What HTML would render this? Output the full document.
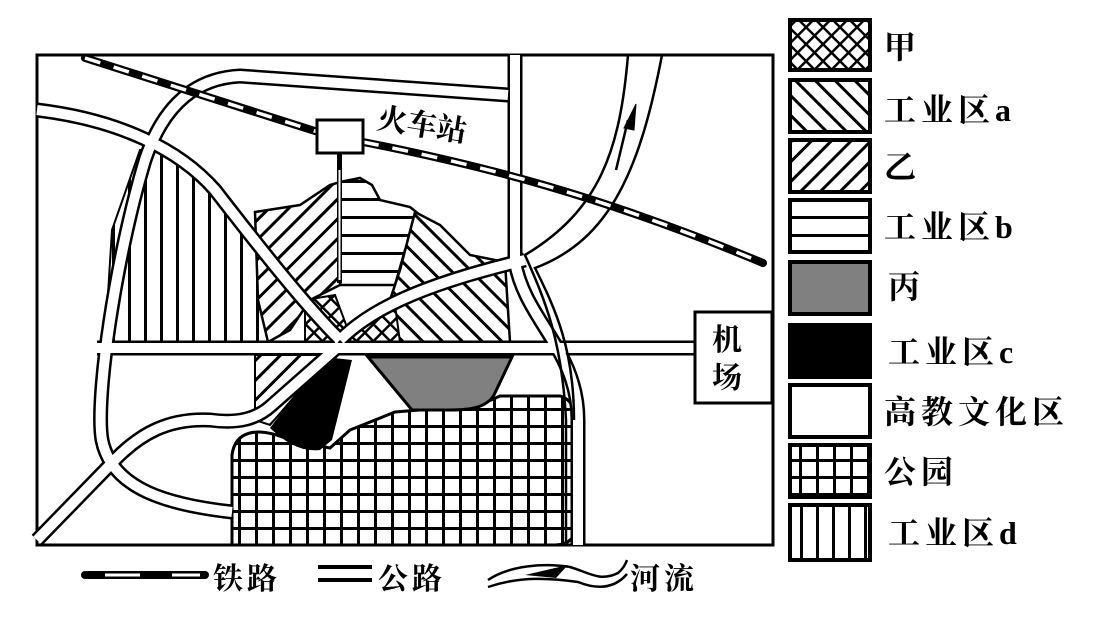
<!DOCTYPE html>
<html><head><meta charset="utf-8"><style>
html,body{margin:0;padding:0;background:#fff;}
svg{display:block;}
text{font-family:"Liberation Serif","Noto Serif CJK SC","Noto Sans CJK SC",serif;font-weight:bold;fill:#000;}
</style></head><body>
<svg width="1101" height="619" viewBox="0 0 1101 619" xmlns="http://www.w3.org/2000/svg">
<defs>
<pattern id="pv" width="16" height="16" patternUnits="userSpaceOnUse"><rect width="16" height="16" fill="#fff"/><rect x="0" y="0" width="3" height="16" fill="#000"/></pattern>
<pattern id="ph" width="18" height="18" patternUnits="userSpaceOnUse"><rect width="18" height="18" fill="#fff"/><rect x="0" y="0" width="18" height="3" fill="#000"/></pattern>
<pattern id="pa" width="14" height="14" patternUnits="userSpaceOnUse" patternTransform="rotate(45)"><rect width="14" height="14" fill="#fff"/><rect x="0" y="0" width="3" height="14" fill="#000"/></pattern>
<pattern id="pb" width="14" height="14" patternUnits="userSpaceOnUse" patternTransform="rotate(-45)"><rect width="14" height="14" fill="#fff"/><rect x="0" y="0" width="3" height="14" fill="#000"/></pattern>
<pattern id="px" width="12" height="12" patternUnits="userSpaceOnUse" patternTransform="rotate(45)"><rect width="12" height="12" fill="#fff"/><rect x="0" y="0" width="2.5" height="12" fill="#000"/><rect x="0" y="0" width="12" height="2.5" fill="#000"/></pattern>
<pattern id="pg" width="17" height="17" patternUnits="userSpaceOnUse"><rect width="17" height="17" fill="#fff"/><rect x="0" y="0" width="3" height="17" fill="#000"/><rect x="0" y="0" width="17" height="3" fill="#000"/></pattern>
</defs>

<rect x="37" y="55" width="736" height="490" fill="#fff" stroke="#000" stroke-width="3"/>

<path d="M105,342 L112,230 L140,150 L180,155 L215,190 L268,255 L268,342 Z" fill="url(#pv)" stroke="#000" stroke-width="2"/>
<path d="M340,182 L360,178 L372,185 L380,200 L410,207 L420,215 L405,250 L395,285 L340,285 Z" fill="url(#ph)" stroke="#000" stroke-width="2.5"/>
<path d="M255,212 L300,205 L330,185 L340,182 L340,285 L310,300 L290,330 L268,342 L258,300 Z" fill="url(#pa)" stroke="#000" stroke-width="2.5"/>
<path d="M255,355 L320,355 L300,390 L270,425 L255,420 Z" fill="url(#pa)" stroke="#000" stroke-width="2"/>
<path d="M415,212 L440,225 L470,255 L505,262 L510,342 L395,342 L390,300 L400,270 Z" fill="url(#pb)" stroke="#000" stroke-width="2.5"/>
<path d="M305,300 L335,295 L348,330 L340,342 L305,342 Z" fill="url(#px)" stroke="#000" stroke-width="2"/>
<path d="M352,330 L395,305 L400,342 L350,342 Z" fill="url(#px)" stroke="#000" stroke-width="2"/>
<path d="M232,545 L232,455 C235,432 255,425 290,440 L330,448 L350,430 L395,412 L480,405 L500,396 L560,396 C575,400 580,420 580,440 L580,520 C577,538 568,545 555,545 Z" fill="url(#pg)" stroke="#000" stroke-width="3"/>
<path d="M270,428 C285,442 300,452 320,450 L332,440 L352,360 L325,357 L300,388 Z" fill="#000"/>
<path d="M368,357 L512,357 L494,395 C486,408 470,410 450,410 L412,410 Z" fill="#808080" stroke="#000" stroke-width="3"/>

<g fill="none" stroke-linecap="butt">
<g stroke="#000" stroke-width="15">
<path d="M37,110 C120,120 180,150 215,190 C250,235 300,300 340,340"/>
<path d="M37,540 L110,465 C140,432 170,418 210,420 C240,424 258,418 272,405 L340,345"/>
<path d="M340,340 C370,310 420,285 525,260"/>
<path d="M97,348 L697,348"/>
<path d="M508,95 L240,76 C200,78 165,100 145,160 C115,260 95,400 102,440 C112,490 170,505 232,512"/>
<path d="M515,55 L515,262 C525,320 578,350 578,420 L578,545"/>
</g>
<g stroke="#fff" stroke-width="10">
<path d="M37,110 C120,120 180,150 215,190 C250,235 300,300 340,340"/>
<path d="M37,540 L110,465 C140,432 170,418 210,420 C240,424 258,418 272,405 L340,345"/>
<path d="M340,340 C370,310 420,285 525,260"/>
<path d="M97,348 L697,348"/>
<path d="M508,95 L240,76 C200,78 165,100 145,160 C115,260 95,400 102,440 C112,490 170,505 232,512"/>
<path d="M515,55 L515,262 C525,320 578,350 578,420 L578,545"/>
</g>
<path d="M628,55 C620,150 600,210 525,255 C545,300 562,340 566,420 L566,545" stroke="#000" stroke-width="2.5"/>
<path d="M662,55 C640,170 610,240 535,268 C556,310 574,350 574,420" stroke="#000" stroke-width="2.5"/>
<path d="M616,170 L628,120" stroke="#000" stroke-width="2.5"/>
<path d="M624,128 L636,104 L634,130 Z" fill="#000" stroke="#000"/>
</g>
<rect x="337" y="153" width="5" height="130" fill="#000"/>
<rect x="338.5" y="170" width="2" height="110" fill="#fff"/>
<path d="M85,58 L318,132 M363,142 C480,165 600,195 763,263" fill="none" stroke="#000" stroke-width="8" stroke-linecap="round"/>
<path d="M85,58 L318,132 M363,142 C480,165 600,195 763,263" fill="none" stroke="#fff" stroke-width="3.5" stroke-dasharray="16 14"/>
<rect x="317" y="120" width="46" height="33" fill="#fff" stroke="#000" stroke-width="3"/>
<text x="376" y="128" font-size="30" font-weight="normal" transform="rotate(9 376 128)">火车站</text>
<rect x="695" y="312" width="77" height="91" fill="#fff" stroke="#000" stroke-width="3"/>
<text x="712" y="350" font-size="30" font-weight="normal">机</text>
<text x="712" y="388" font-size="30" font-weight="normal">场</text>

<g stroke="#000" stroke-width="4">
<rect x="790" y="20" width="80" height="50" fill="url(#px)"/>
<rect x="790" y="80" width="80" height="52" fill="url(#pb)"/>
<rect x="790" y="140" width="80" height="52" fill="url(#pa)"/>
<rect x="790" y="200" width="80" height="52" fill="url(#ph)"/>
<rect x="790" y="262" width="80" height="52" fill="#808080"/>
<rect x="790" y="325" width="80" height="52" fill="#000"/>
<rect x="790" y="385" width="80" height="52" fill="#fff"/>
<rect x="790" y="445" width="80" height="52" fill="url(#pg)"/>
<rect x="790" y="505" width="80" height="55" fill="url(#pv)"/>
</g>
<g font-size="32" letter-spacing="5">
<text x="884" y="58">甲</text>
<text x="884" y="121">工业区a</text>
<text x="884" y="178">乙</text>
<text x="884" y="238">工业区b</text>
<text x="888" y="298">丙</text>
<text x="888" y="363">工业区c</text>
<text x="884" y="423">高教文化区</text>
<text x="884" y="483">公园</text>
<text x="888" y="544">工业区d</text>
</g>

<path d="M85,575 L205,575" stroke="#000" stroke-width="8" stroke-linecap="round"/>
<path d="M105,575 L140,575 M172,575 L200,575" stroke="#fff" stroke-width="3"/>
<text x="213" y="589" font-size="30" letter-spacing="4">铁路</text>
<rect x="318" y="565" width="54" height="4" fill="#000"/>
<rect x="318" y="578" width="54" height="4" fill="#000"/>
<text x="378" y="589" font-size="30" letter-spacing="4">公路</text>
<path d="M488,580 C510,565 545,563 570,567 C590,573 600,582 618,573 C624,568 626,563 627,560" fill="none" stroke="#000" stroke-width="2.5"/>
<path d="M488,587 C520,576 550,578 578,582 C598,590 615,588 627,574" fill="none" stroke="#000" stroke-width="2.5"/>
<path d="M525,575 L568,565 L556,578 Z" fill="#000"/>
<text x="630" y="589" font-size="30" letter-spacing="4">河流</text>
</svg>
</body></html>
